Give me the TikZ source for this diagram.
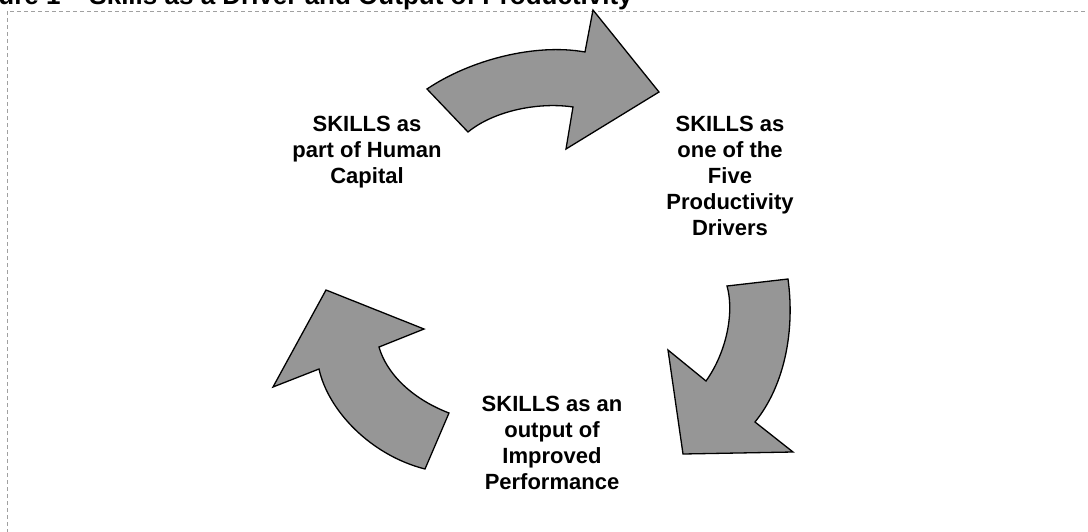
\documentclass[tikz,border=0pt]{standalone}
\usepackage{fontspec}
\setmainfont{Liberation Sans}
\usepackage{tikz}

\begin{document}
\begin{tikzpicture}[x=1pt,y=-1pt,line width=1.3pt,semithick]
  \tikzstyle{skill}=[align=center,inner sep=0pt,anchor=north,font=\fontsize{22}{26}\selectfont\bfseries]
  \tikzstyle{cyclearrow}=[fill={rgb,255:red,150;green,150;blue,150},draw=black,line width=1.3pt]
  \tikzstyle{frame}=[draw={rgb,255:red,160;green,160;blue,160},line width=0.9pt,dash pattern=on 4pt off 3pt]

  \useasboundingbox (0,0) rectangle (1088,531);
  \clip (0,0) rectangle (1088,531);

  \node[anchor=base east,inner sep=0pt,font=\fontsize{26}{30}\selectfont\bfseries] (title) at (633,4)
    {Figure 1 -- Skills as a Driver and Output of Productivity};
  \coordinate (frameA) at (7,540);
  \coordinate (frameB) at (7,11);
  \coordinate (frameC) at (1095,11);
  \path[frame] (frameA) -- (frameB) -- (frameC);

  \node[skill] (capital) at (367,116) {SKILLS as\\part of Human\\Capital};
  \node[skill] (drivers) at (730,116) {SKILLS as\\one of the\\Five\\Productivity\\Drivers};
  \node[skill] (output) at (552,396) {SKILLS as an\\output of\\Improved\\Performance};

  \path[cyclearrow] (427,89) .. controls (470,60) and (535,43) .. (585,52) -- (593,10) -- (659,92)
    -- (566,149) -- (573,107) .. controls (540,102) and (495,110) .. (468,132) -- cycle;
  \path[cyclearrow] (727,286) -- (788,279) .. controls (795,330) and (785,385) .. (755,422)
    -- (793,452) -- (683,454) -- (668,350) -- (706,381) .. controls (728,350) and (734,310) .. (727,286) -- cycle;
  \path[cyclearrow] (425,469) -- (449,413) .. controls (410,398) and (386,372) .. (379,347)
    -- (424,329) -- (326,290) -- (273,387) -- (319,369) .. controls (328,410) and (370,455) .. (425,469) -- cycle;
\end{tikzpicture}
\end{document}
